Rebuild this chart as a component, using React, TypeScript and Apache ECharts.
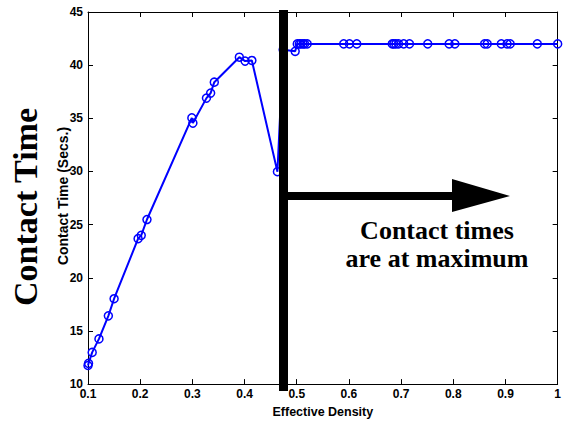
import React, { useEffect, useRef } from "react";
import * as echarts from "echarts";

const densities = [
  0.1, 0.101, 0.108, 0.121, 0.139, 0.15, 0.196, 0.202, 0.213, 0.299, 0.301,
  0.327, 0.335, 0.342, 0.39, 0.401, 0.414, 0.463, 0.474, 0.497, 0.501, 0.505,
  0.508, 0.512, 0.515, 0.52, 0.59, 0.601, 0.615, 0.683, 0.686, 0.69, 0.695,
  0.705, 0.716, 0.751, 0.792, 0.803, 0.86, 0.865, 0.892, 0.903, 0.909, 0.961,
  1.0,
];
const contactTimes = [
  11.75, 11.95, 12.98, 14.25, 16.42, 18.03, 23.68, 23.99, 25.48, 35.04, 34.55,
  36.9, 37.37, 38.4, 40.75, 40.38, 40.44, 29.98, 41.46, 41.3, 42, 42, 42, 42,
  42, 42, 42, 42, 42, 42, 42, 42, 42, 42, 42, 42, 42, 42, 42, 42, 42, 42, 42,
  42, 42,
];
const xTicks = { min: 0.1, max: 1, interval: 0.1 };
const yTicks = { min: 10, max: 45, interval: 5 };
const annotationLines = ["Contact times", "are at maximum"];
const bigLabel = "Contact Time";
const yAxisTitle = "Contact Time (Secs.)";

export default function App() {
  const ref = useRef<HTMLDivElement>(null);
  useEffect(() => {
    if (!ref.current) return;
    const chart = echarts.init(ref.current, undefined, { renderer: "svg" });
    const tickFont = {
      fontFamily: "Liberation Sans, Arial, sans-serif",
      fontWeight: "bold" as const,
      fontSize: 12,
      color: "#000",
    };
    const axisLine = { show: true, lineStyle: { color: "#000", width: 1 } };
    const axisTick = { show: true, inside: true, length: 5, lineStyle: { color: "#000" } };
    chart.setOption({
      animation: false,
      backgroundColor: "#fff",
      grid: { left: 88, right: 2, top: 12, bottom: 35 },
      xAxis: [
        {
          type: "value",
          ...xTicks,
          position: "bottom",
          axisLine,
          axisTick,
          splitLine: { show: false },
          axisLabel: {
            ...tickFont,
            margin: 4,
            formatter: (v: number) => String(+v.toFixed(1)),
          },
          name: "Effective Density",
          nameLocation: "middle",
          nameGap: 19,
          nameTextStyle: { ...tickFont, fontSize: 12.5 },
        },
        {
          type: "value",
          ...xTicks,
          position: "top",
          axisLine,
          axisTick,
          splitLine: { show: false },
          axisLabel: { show: false },
        },
      ],
      yAxis: [
        {
          type: "value",
          ...yTicks,
          position: "left",
          axisLine,
          axisTick,
          splitLine: { show: false },
          axisLabel: { ...tickFont, margin: 5 },
        },
        {
          type: "value",
          ...yTicks,
          position: "right",
          axisLine,
          axisTick,
          splitLine: { show: false },
          axisLabel: { show: false },
        },
      ],
      series: [
        {
          type: "line",
          data: densities.map((d, i) => [d, contactTimes[i]]),
          symbol: "circle",
          symbolSize: 8,
          lineStyle: { color: "#0000ff", width: 2 },
          itemStyle: { color: "transparent", borderColor: "#0000ff", borderWidth: 1.5 },
          z: 2,
        },
      ],
      graphic: [
        { type: "rect", shape: { x: 279, y: 10, width: 9, height: 381 }, style: { fill: "#000" }, z: 100 },
        { type: "rect", shape: { x: 288, y: 192, width: 166, height: 8 }, style: { fill: "#000" }, z: 100 },
        {
          type: "polygon",
          shape: { points: [[452, 179], [510, 196], [452, 212]] },
          style: { fill: "#000" },
          z: 100,
        },
        {
          type: "text",
          x: 437,
          y: 244,
          style: {
            text: annotationLines.join("\n"),
            font: "bold 26px 'Liberation Serif', 'Times New Roman', serif",
            lineHeight: 28,
            fill: "#000",
            textAlign: "center",
            textVerticalAlign: "middle",
          },
          z: 100,
        },
        {
          type: "text",
          x: 63,
          y: 196,
          rotation: Math.PI / 2,
          style: {
            text: yAxisTitle,
            font: "bold 14px 'Liberation Sans', Arial, sans-serif",
            fill: "#000",
            textAlign: "center",
            textVerticalAlign: "middle",
          },
          z: 100,
        },
        {
          type: "text",
          x: 25,
          y: 207,
          rotation: Math.PI / 2,
          style: {
            text: bigLabel,
            font: "bold 34px 'Liberation Serif', 'Times New Roman', serif",
            fill: "#000",
            textAlign: "center",
            textVerticalAlign: "middle",
          },
          z: 100,
        },
      ],
    });
    return () => chart.dispose();
  }, []);
  return <div ref={ref} style={{ width: 564, height: 423, position: "absolute", left: 0, top: 0 }} />;
}
